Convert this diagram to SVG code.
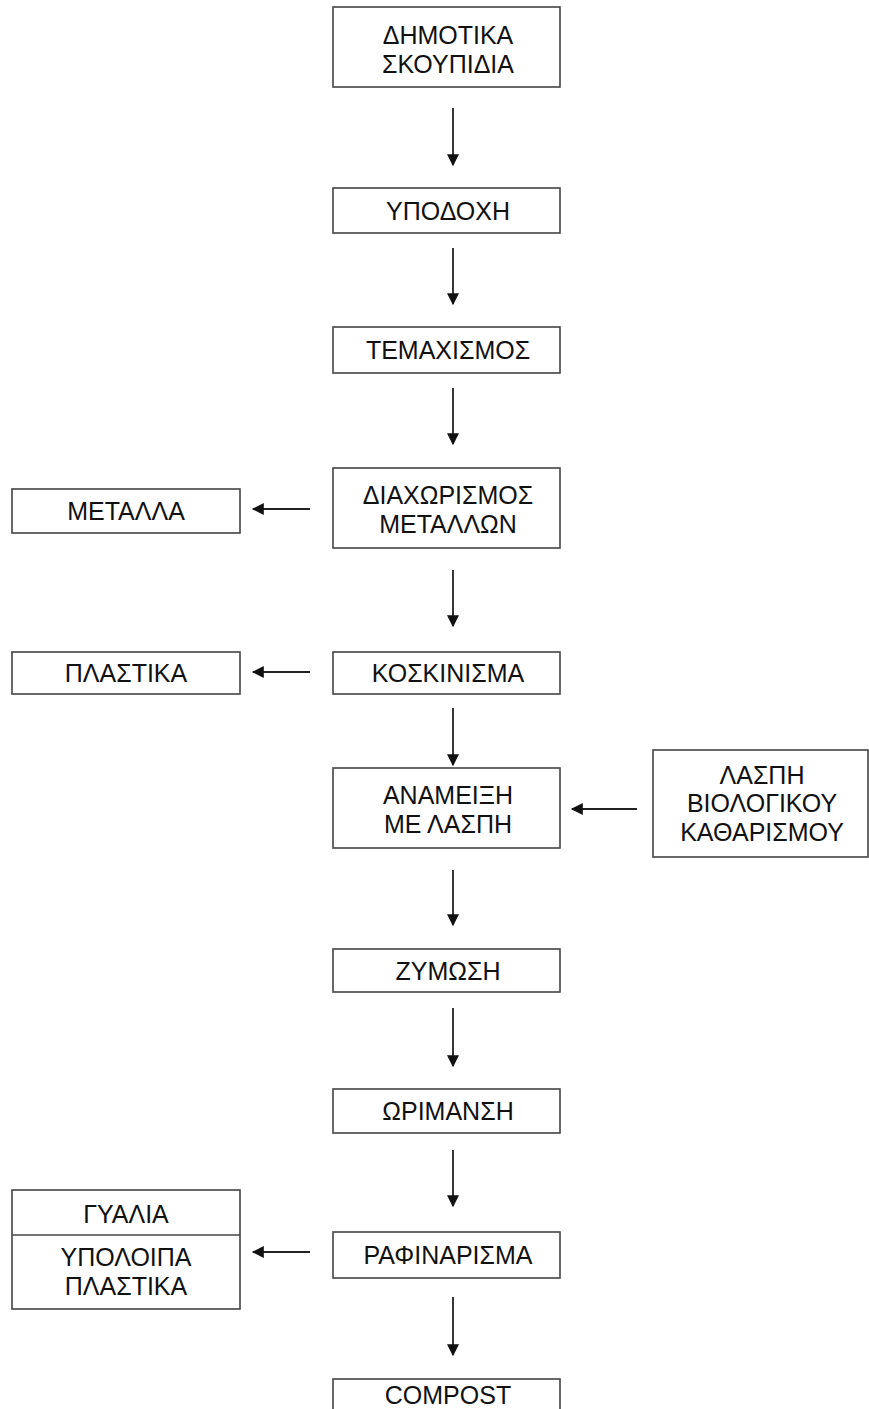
<svg xmlns="http://www.w3.org/2000/svg" width="869" height="1409" viewBox="0 0 869 1409">
<style>
.b{fill:#fff;stroke:#444;stroke-width:1.6}
.t{font-family:"Liberation Sans",Arial,sans-serif;font-size:25px;fill:#111;text-anchor:middle}
.c{stroke:#222;stroke-width:1.8;fill:none;marker-end:url(#ah)}
</style>
<defs>
<marker id="ah" viewBox="0 0 10 10" refX="9" refY="5" markerUnits="userSpaceOnUse" markerWidth="13" markerHeight="12" orient="auto">
<path d="M0,0 L10,5 L0,10 z" fill="#111"/>
</marker>
</defs>
<rect width="869" height="1409" fill="#fff"/>
<g id="connectors">
<line class="c" x1="453" y1="108" x2="453" y2="165"/>
<line class="c" x1="453" y1="248" x2="453" y2="304"/>
<line class="c" x1="453" y1="388" x2="453" y2="444"/>
<line class="c" x1="453" y1="570" x2="453" y2="626"/>
<line class="c" x1="453" y1="708" x2="453" y2="765"/>
<line class="c" x1="453" y1="870" x2="453" y2="925"/>
<line class="c" x1="453" y1="1008" x2="453" y2="1066"/>
<line class="c" x1="453" y1="1150" x2="453" y2="1206"/>
<line class="c" x1="453" y1="1297" x2="453" y2="1355"/>
<line class="c" x1="310" y1="509" x2="253" y2="509"/>
<line class="c" x1="310" y1="672" x2="253" y2="672"/>
<line class="c" x1="637" y1="809" x2="572" y2="809"/>
<line class="c" x1="310" y1="1252" x2="253" y2="1252"/>
</g>
<g id="n1"><rect class="b" x="333" y="7" width="227" height="80"/><text class="t" x="448" y="44">ΔΗΜΟΤΙΚΑ</text><text class="t" x="448" y="73">ΣΚΟΥΠΙΔΙΑ</text></g>
<g id="n2"><rect class="b" x="333" y="188" width="227" height="45"/><text class="t" x="448" y="220">ΥΠΟΔΟΧΗ</text></g>
<g id="n3"><rect class="b" x="333" y="327" width="227" height="46"/><text class="t" x="448" y="359">ΤΕΜΑΧΙΣΜΟΣ</text></g>
<g id="n4"><rect class="b" x="333" y="468" width="227" height="80"/><text class="t" x="448" y="504">ΔΙΑΧΩΡΙΣΜΟΣ</text><text class="t" x="448" y="533">ΜΕΤΑΛΛΩΝ</text></g>
<g id="n4b"><rect class="b" x="12" y="489" width="228" height="44"/><text class="t" x="126" y="520">ΜΕΤΑΛΛΑ</text></g>
<g id="n5"><rect class="b" x="333" y="652" width="227" height="42"/><text class="t" x="448" y="682">ΚΟΣΚΙΝΙΣΜΑ</text></g>
<g id="n5b"><rect class="b" x="12" y="652" width="228" height="42"/><text class="t" x="126" y="682">ΠΛΑΣΤΙΚΑ</text></g>
<g id="n6"><rect class="b" x="333" y="768" width="227" height="80"/><text class="t" x="448" y="804">ΑΝΑΜΕΙΞΗ</text><text class="t" x="448" y="833">ΜΕ ΛΑΣΠΗ</text></g>
<g id="n6b"><rect class="b" x="653" y="750" width="215" height="107"/><text class="t" x="762" y="784">ΛΑΣΠΗ</text><text class="t" x="762" y="812">ΒΙΟΛΟΓΙΚΟΥ</text><text class="t" x="762" y="841">ΚΑΘΑΡΙΣΜΟΥ</text></g>
<g id="n7"><rect class="b" x="333" y="949" width="227" height="43"/><text class="t" x="448" y="980">ΖΥΜΩΣΗ</text></g>
<g id="n8"><rect class="b" x="333" y="1089" width="227" height="44"/><text class="t" x="448" y="1120">ΩΡΙΜΑΝΣΗ</text></g>
<g id="n9"><rect class="b" x="333" y="1232" width="227" height="46"/><text class="t" x="448" y="1264">ΡΑΦΙΝΑΡΙΣΜΑ</text></g>
<g id="n9b"><rect class="b" x="12" y="1190" width="228" height="119"/><line x1="12" y1="1235" x2="240" y2="1235" stroke="#444" stroke-width="1.6"/><text class="t" x="126" y="1223">ΓΥΑΛΙΑ</text><text class="t" x="126" y="1266">ΥΠΟΛΟΙΠΑ</text><text class="t" x="126" y="1295">ΠΛΑΣΤΙΚΑ</text></g>
<g id="n10"><rect class="b" x="333" y="1379" width="227" height="45"/><text class="t" x="448" y="1404">COMPOST</text></g>
</svg>
